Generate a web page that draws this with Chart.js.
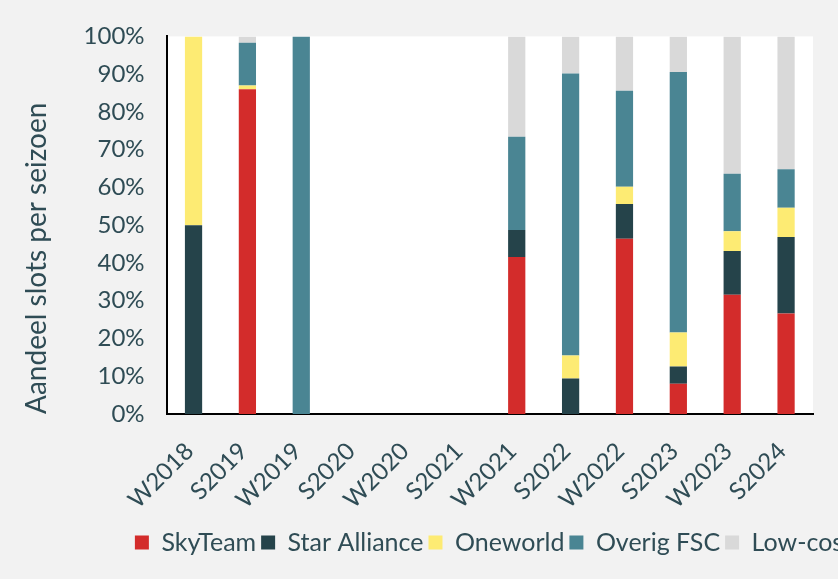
<!DOCTYPE html>
<html lang="nl">
<head>
  <meta charset="UTF-8" />
  <title>Aandeel slots per seizoen</title>
  <script src="https://cdn.jsdelivr.net/npm/chart.js"></script>
  <style>
    html, body { margin: 0; padding: 0; background: #f2f2f2; overflow: hidden; }
    #wrap { width: 990px; height: 579px; }
  </style>
</head>
<body>
  <div id="wrap"><canvas id="slotsChart" width="990" height="579"></canvas></div>

  <script>
    // seizoenen
    const seasons = ['W2018', 'S2019', 'W2019', 'S2020', 'W2020', 'S2021', 'W2021', 'S2022', 'W2022', 'S2023', 'W2023', 'S2024'];

    // aandeel per groep (%)
    const skyTeam      = [0,  86.0, 0,   0, 0, 0, 41.6, 0,    46.4, 8.0,  31.6, 26.6];
    const starAlliance = [50, 0,    0,   0, 0, 0, 7.1,  9.4,  9.2,  4.6,  11.6, 20.3];
    const oneworld     = [50, 1.0,  0,   0, 0, 0, 0,    6.1,  4.6,  9.0,  5.2,  7.7];
    const overigFSC    = [0,  11.3, 100, 0, 0, 0, 24.7, 74.7, 25.4, 69.0, 15.2, 10.2];
    const lowCost      = [0,  1.7,  0,   0, 0, 0, 26.6, 9.8,  14.4, 9.4,  36.4, 35.2];

    const yTicks = [0, 10, 20, 30, 40, 50, 60, 70, 80, 90, 100];

    const textColor = '#2f4c55';
    const fontFamily = "Lato, 'Open Sans', sans-serif";

    // witte achtergrond voor het plotgebied
    const plotBg = {
      id: 'plotBg',
      beforeDraw(chart) {
        const { ctx, chartArea: a } = chart;
        ctx.save();
        ctx.fillStyle = '#ffffff';
        ctx.fillRect(a.left, a.top, a.right - a.left, a.bottom - a.top);
        ctx.restore();
      }
    };

    const mk = (label, data, color) => ({
      label, data, backgroundColor: color, borderWidth: 0,
      barPercentage: 0.32, categoryPercentage: 1
    });

    new Chart(document.getElementById('slotsChart').getContext('2d'), {
      type: 'bar',
      data: {
        labels: seasons,
        datasets: [
          mk('SkyTeam', skyTeam, '#d32c2b'),
          mk('Star Alliance', starAlliance, '#25434a'),
          mk('Oneworld', oneworld, '#fdeb73'),
          mk('Overig FSC', overigFSC, '#4a8593'),
          mk('Low-cost', lowCost, '#d9d9d9')
        ]
      },
      options: {
        responsive: false,
        animation: false,
        layout: { padding: { top: 29, left: 20, right: 23, bottom: 14 } },
        plugins: {
          tooltip: { enabled: false },
          legend: {
            position: 'bottom',
            labels: {
              color: textColor,
              font: { family: fontFamily, size: 25 },
              boxWidth: 14,
              boxHeight: 14,
              padding: 5
            }
          }
        },
        scales: {
          x: {
            stacked: true,
            grid: { display: false, drawTicks: false },
            border: { color: '#000000', width: 2 },
            ticks: {
              color: textColor,
              font: { family: fontFamily, size: 24 },
              minRotation: 45,
              maxRotation: 45,
              padding: 23,
              labelOffset: -4
            },
            afterFit(scale) { scale.height = 111; }
          },
          y: {
            stacked: true,
            min: 0,
            max: 100,
            afterBuildTicks(axis) { axis.ticks = yTicks.map(v => ({ value: v })); },
            grid: { display: false, drawTicks: false },
            border: { color: '#000000', width: 2 },
            ticks: {
              color: textColor,
              font: { family: fontFamily, size: 24 },
              padding: 22,
              callback: v => v + '%'
            },
            title: {
              display: true,
              text: 'Aandeel slots per seizoen',
              align: 'start',
              color: textColor,
              font: { family: fontFamily, size: 28 },
              padding: { top: 0, bottom: 8 }
            }
          },
          // lege ruimte rechts, zodat de legenda net als in het origineel doorloopt
          spacer: {
            type: 'linear',
            position: 'right',
            display: true,
            grid: { display: false, drawTicks: false },
            border: { display: false },
            ticks: { display: false },
            afterFit(scale) { scale.width = 154; }
          }
        }
      },
      plugins: [plotBg]
    });
  </script>
</body>
</html>
